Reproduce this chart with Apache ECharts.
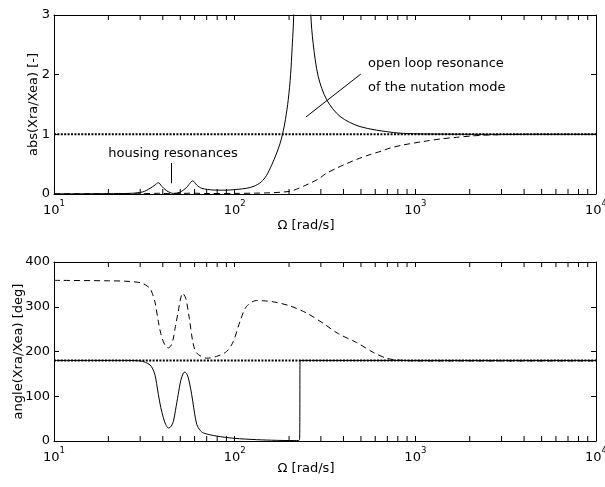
<!DOCTYPE html>
<html><head><meta charset="utf-8">
<script src="https://cdn.jsdelivr.net/npm/echarts@6/dist/echarts.min.js"></script>
<style>html,body{margin:0;padding:0;background:#fff}#c{width:605px;height:487px}</style>
</head><body><div id="c"></div>
<script>
// ---- data ----
const xTickExps = ['1', '2', '3', '4'];
const minorTicks = [20,30,40,50,60,70,80,90,200,300,400,500,600,700,800,900,2000,3000,4000,5000,6000,7000,8000,9000];

// top: abs(Xra/Xea), solid curve
const magSolidW = [10,15,20,26,31,34,36.2,37.8,39.5,42,45.8,49.8,54.2,58.6,61.7,65.8,76,86,94,116,128,140,150,160,170,178,184,191,198,204,208,211,215,222,228,234,240,247,255,264,272,290,323,383,494,755,975,1500,3000,10000];
const magSolidV = [0.003,0.004,0.006,0.01,0.035,0.095,0.15,0.19,0.13,0.055,0.01,0.03,0.11,0.22,0.15,0.095,0.067,0.064,0.067,0.095,0.13,0.2,0.31,0.48,0.67,0.84,1.0,1.25,1.58,2.0,2.45,2.8,3.5,5,8,20,20,8,4.5,3.0,2.52,1.97,1.58,1.30,1.13,1.03,1.01,1.003,1.0,1.0];
// top: dashed curve
const magDashW = [10,30,38,45,58,70,100,130,157,180,202,220,240,261,290,309,323,370,417,473,561,650,724,850,1107,1400,1694,2100,2588,4000,10000];
const magDashV = [0.003,0.004,0.012,0.004,0.014,0.008,0.01,0.014,0.02,0.03,0.045,0.08,0.13,0.18,0.25,0.31,0.35,0.44,0.51,0.58,0.66,0.72,0.77,0.82,0.88,0.925,0.95,0.975,0.99,1.0,1.0];
const magRefW = [10,10000];
const magRefV = [1,1];

// bottom: angle(Xra/Xea), solid curve
const phSolidW = [10,25,29.9,32,34,35.2,36.2,37,37.8,39,40.3,41.5,43,44.5,45.8,47,48.7,50.3,52,53.1,54.3,55.4,57,58.6,60,61.7,64,67.1,79.4,99.5,132,170,202,226,229,230,231,300,10000];
const phSolidV = [180,180,179,176,170,161,148,128,104,75,52,37,29,33,44,68,104,135,152,154,150,141,118,89,62,37,25,18,11,6,3,1.5,1,1,6,180,180,180,180];
// bottom: dashed curve
const phDashW = [10,20,25,29.9,32,34,35,36.2,37.8,39,40.3,41.5,43,44.5,45.8,47,48.7,50,51.5,53.6,56.1,58.6,60.5,63,70,79.4,90.2,98.2,107,116,132,148,164,202,250,309,374,473,585,692,800,1000,10000];
const phDashV = [359,358,357,354,349,341,330,311,267,240,222,212,208,214,230,256,289,315,330,319,274,222,202,193,185,189,200,222,267,300,314,313,311,302,286,263,240,220,198,185,181,179,179];
const phRefW = [10,10000];
const phRefV = [180,180];

const zip = (w, v) => w.map((x, i) => [x, v[i]]);

// ---- style ----
const FONT = 'DejaVu Sans';
const FS = 13;
const txt = {color:'#000', fontFamily:FONT, fontSize:FS};

function xAxisPair(g, nameGap) {
  return [{
    type:'log', logBase:10, gridIndex:g, min:10, max:10000, position:'bottom',
    axisLine:{show:true, onZero:false, lineStyle:{color:'#000', width:1}},
    axisTick:{show:true, inside:true, length:5, lineStyle:{color:'#000', width:1}},
    splitLine:{show:false},
    axisLabel:{show:true, margin:5, showMinLabel:true, showMaxLabel:true, hideOverlap:false,
      formatter: v => { const e = Math.round(Math.log10(v)); return '{b|10}{s|' + xTickExps[e-1] + '}'; },
      rich:{ b:{...txt, lineHeight:18, verticalAlign:'bottom'}, s:{...txt, fontSize:8.5, lineHeight:18, verticalAlign:'top'} } },
    name:'Ω [rad/s]', nameLocation:'middle', nameGap:nameGap, nameMoveOverlap:false,
    nameTextStyle:{...txt, padding:[0,38,0,0]}
  },{
    type:'log', logBase:10, gridIndex:g, min:10, max:10000, position:'top',
    axisLine:{show:true, onZero:false, lineStyle:{color:'#000', width:1}},
    axisTick:{show:true, inside:true, length:5, lineStyle:{color:'#000', width:1}},
    splitLine:{show:false}, axisLabel:{show:false}
  }];
}
function yAxisPair(g, min, max, interval, name, nameGap) {
  return [{
    type:'value', gridIndex:g, min, max, interval, position:'left',
    axisLine:{show:true, onZero:false, lineStyle:{color:'#000', width:1}},
    axisTick:{show:true, inside:true, length:5, lineStyle:{color:'#000', width:1}},
    splitLine:{show:false},
    axisLabel:{...txt, margin:4},
    name, nameLocation:'middle', nameGap, nameRotate:90, nameMoveOverlap:false, nameTextStyle:{...txt}
  },{
    type:'value', gridIndex:g, min, max, interval, position:'right',
    axisLine:{show:true, onZero:false, lineStyle:{color:'#000', width:1}},
    axisTick:{show:true, inside:true, length:5, lineStyle:{color:'#000', width:1}},
    splitLine:{show:false}, axisLabel:{show:false}
  }];
}

function minorTickSeries(xi, yi) {
  return {
    type:'custom', xAxisIndex:xi, yAxisIndex:yi, silent:true, clip:false, z:5,
    data: minorTicks.map(v => [v, 0]),
    renderItem: (params, api) => {
      const px = api.coord([api.value(0), api.value(1)])[0];
      const cs = params.coordSys;
      const st = {stroke:'#000', lineWidth:1};
      return {type:'group', children:[
        {type:'line', shape:{x1:px, y1:cs.y+cs.height, x2:px, y2:cs.y+cs.height-5}, style:st},
        {type:'line', shape:{x1:px, y1:cs.y, x2:px, y2:cs.y+5}, style:st}
      ]};
    }
  };
}

const solid = {color:'#000', width:1, type:'solid'};
const dashed = {color:'#000', width:1, type:[6,4]};
const dotted = {color:'#000', width:2, type:[2,1.4]};

const option = {
  animation:false,
  backgroundColor:'#fff',
  grid:[
    {left:54, top:15, width:542, height:179, containLabel:false, outerBoundsMode:'none'},
    {left:54, top:262, width:542, height:179, containLabel:false, outerBoundsMode:'none'}
  ],
  xAxis:[...xAxisPair(0, 25), ...xAxisPair(1, 21)],
  yAxis:[...yAxisPair(0, 0, 3, 1, 'abs(Xra/Xea) [-]', 14), ...yAxisPair(1, 0, 400, 100, 'angle(Xra/Xea) [deg]', 29)],
  series:[
    {type:'line', xAxisIndex:0, yAxisIndex:0, data:zip(magRefW, magRefV), symbol:'none', lineStyle:dotted, silent:true, z:3},
    {type:'line', xAxisIndex:0, yAxisIndex:0, data:zip(magSolidW, magSolidV), symbol:'none', smooth:0.3, lineStyle:solid, clip:true, silent:true, z:4,
      markLine:{silent:true, symbol:['none','none'], label:{show:false}, lineStyle:{color:'#000', width:1, type:'solid'},
        data:[
          [{coord:[44.8,0.18]},{coord:[44.8,0.52]}],
          [{coord:[248,1.29]},{coord:[499,2.01]}]
        ]}},
    {type:'line', xAxisIndex:0, yAxisIndex:0, data:zip(magDashW, magDashV), symbol:'none', smooth:0.3, lineStyle:dashed, clip:true, silent:true, z:4},
    minorTickSeries(0, 0),
    {type:'line', xAxisIndex:2, yAxisIndex:2, data:zip(phRefW, phRefV), symbol:'none', lineStyle:dotted, silent:true, z:3},
    {type:'line', xAxisIndex:2, yAxisIndex:2, data:zip(phSolidW, phSolidV), symbol:'none', smooth:0.3, lineStyle:solid, clip:true, silent:true, z:4},
    {type:'line', xAxisIndex:2, yAxisIndex:2, data:zip(phDashW, phDashV), symbol:'none', smooth:0.3, lineStyle:dashed, clip:true, silent:true, z:4},
    minorTickSeries(2, 2)
  ]
};

const chart = echarts.init(document.getElementById('c'), null, {renderer:'canvas'});
chart.setOption(option);

const toPx = (x, y) => chart.convertToPixel({xAxisIndex:0, yAxisIndex:0}, [x, y]);
const a1 = toPx(45.6, 0.67), a2 = toPx(547, 2.18), a3 = toPx(547, 1.785);
const font = FS + 'px "' + FONT + '"';
chart.setOption({graphic:[
  {type:'text', x:a1[0], y:a1[1], silent:true, style:{text:'housing resonances', font, fill:'#000', align:'center', verticalAlign:'middle'}},
  {type:'text', x:a2[0], y:a2[1], silent:true, style:{text:'open loop resonance', font, fill:'#000', align:'left', verticalAlign:'middle'}},
  {type:'text', x:a3[0], y:a3[1], silent:true, style:{text:'of the nutation mode', font, fill:'#000', align:'left', verticalAlign:'middle'}}
]});
</script>
</body></html>
